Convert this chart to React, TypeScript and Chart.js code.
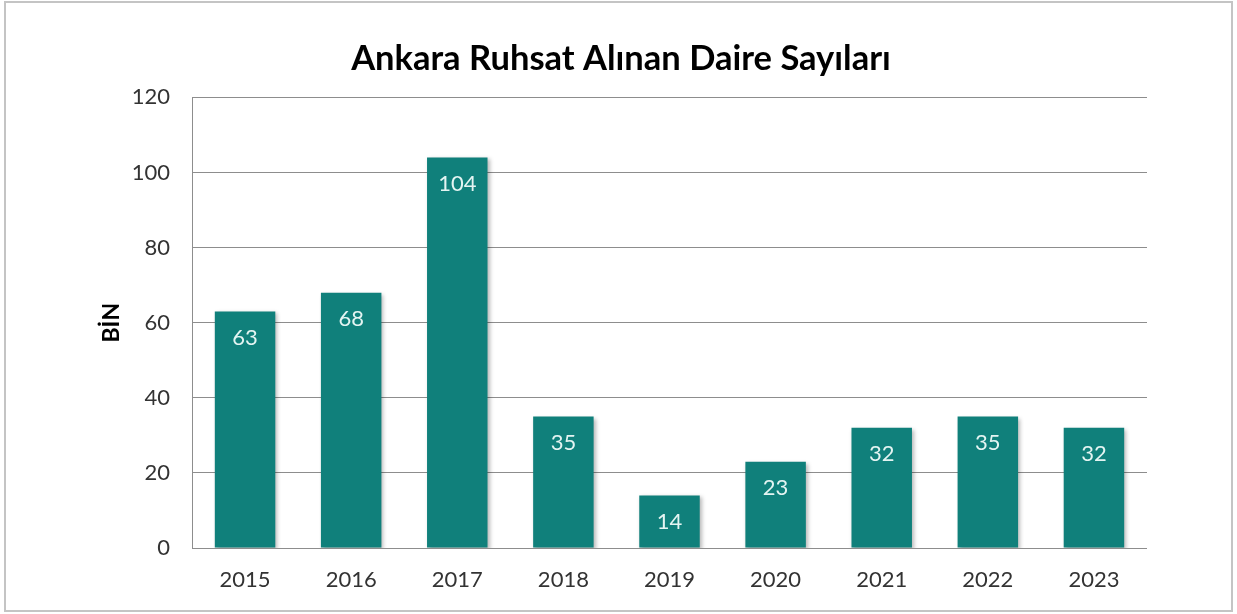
import React, { useEffect, useRef } from "react";
import { Chart, registerables } from "chart.js";

Chart.register(...registerables);

const TITLE = "Ankara Ruhsat Alınan Daire Sayıları";
const Y_TITLE = "BİN";
const categories = ["2015", "2016", "2017", "2018", "2019", "2020", "2021", "2022", "2023"];
const values = [63, 68, 104, 35, 14, 23, 32, 35, 32];
const Y_MAX = 120;
const Y_STEP = 20;

const FONT = "Lato, 'Open Sans', sans-serif";
const BAR_COLOR = "#10807b";
const LABEL_COLOR = "#e4f4f2";
const GRID_COLOR = "#8d8d8d";

const framePlugin = {
  id: "frame",
  beforeDraw(chart: any) {
    const { ctx, width, height } = chart;
    ctx.save();
    ctx.fillStyle = "#ffffff";
    ctx.fillRect(0, 0, width, height);
    ctx.strokeStyle = "#c4c4c4";
    ctx.lineWidth = 2;
    ctx.strokeRect(5, 2, width - 10, height - 5);
    ctx.restore();
  },
};

const shadowPlugin = {
  id: "barShadow",
  beforeDatasetsDraw(chart: any) {
    const ctx = chart.ctx;
    ctx.save();
    ctx.shadowColor = "rgba(0,0,0,0.28)";
    ctx.shadowBlur = 4;
    ctx.shadowOffsetX = 2;
    ctx.shadowOffsetY = 2;
  },
  afterDatasetsDraw(chart: any) {
    chart.ctx.restore();
  },
};

const labelPlugin = {
  id: "valueLabels",
  afterDatasetsDraw(chart: any) {
    const ctx = chart.ctx;
    const meta = chart.getDatasetMeta(0);
    ctx.save();
    ctx.font = `22px ${FONT}`;
    ctx.fillStyle = LABEL_COLOR;
    ctx.textAlign = "center";
    ctx.textBaseline = "middle";
    meta.data.forEach((bar: any, i: number) => {
      ctx.fillText(String(values[i]), bar.x, bar.y + 26);
    });
    ctx.restore();
  },
};

export default function App() {
  const ref = useRef<HTMLCanvasElement | null>(null);

  useEffect(() => {
    document.body.style.margin = "0";
    if (!ref.current) return;
    const chart = new Chart(ref.current, {
      type: "bar",
      data: {
        labels: categories,
        datasets: [
          {
            data: values,
            backgroundColor: BAR_COLOR,
            borderWidth: 0,
            categoryPercentage: 1,
            barPercentage: 0.57,
          },
        ],
      },
      plugins: [framePlugin, shadowPlugin, labelPlugin],
      options: {
        animation: false,
        responsive: false,
        maintainAspectRatio: false,
        layout: { padding: { left: 95, right: 90, top: 0, bottom: 0 } },
        plugins: {
          legend: { display: false },
          tooltip: { enabled: false },
          title: {
            display: true,
            text: TITLE,
            color: "#000000",
            font: { family: FONT, size: 34.5, weight: "bold" },
            padding: { top: 38, bottom: 18 },
          },
        },
        scales: {
          x: {
            grid: { display: false, drawTicks: false },
            border: { display: false },
            ticks: {
              color: "#333333",
              font: { family: FONT, size: 22 },
              padding: 19,
            },
            afterFit(scale: any) {
              scale.height = 66;
            },
          },
          y: {
            min: 0,
            max: Y_MAX,
            grid: { color: GRID_COLOR, lineWidth: 1, drawTicks: false },
            border: { display: true, color: GRID_COLOR, width: 1 },
            ticks: {
              stepSize: Y_STEP,
              color: "#333333",
              font: { family: FONT, size: 22 },
              padding: 22,
            },
            title: {
              display: true,
              text: Y_TITLE,
              color: "#000000",
              font: { family: FONT, size: 23, weight: "bold" },
              padding: { top: 3, bottom: 0 },
            },
            afterFit(scale: any) {
              scale.width = 97;
            },
          },
        },
      },
    });
    return () => chart.destroy();
  }, []);

  return (
    <div style={{ width: 1237, height: 614, position: "relative" }}>
      <canvas ref={ref} width={1237} height={614} style={{ display: "block" }} />
    </div>
  );
}
